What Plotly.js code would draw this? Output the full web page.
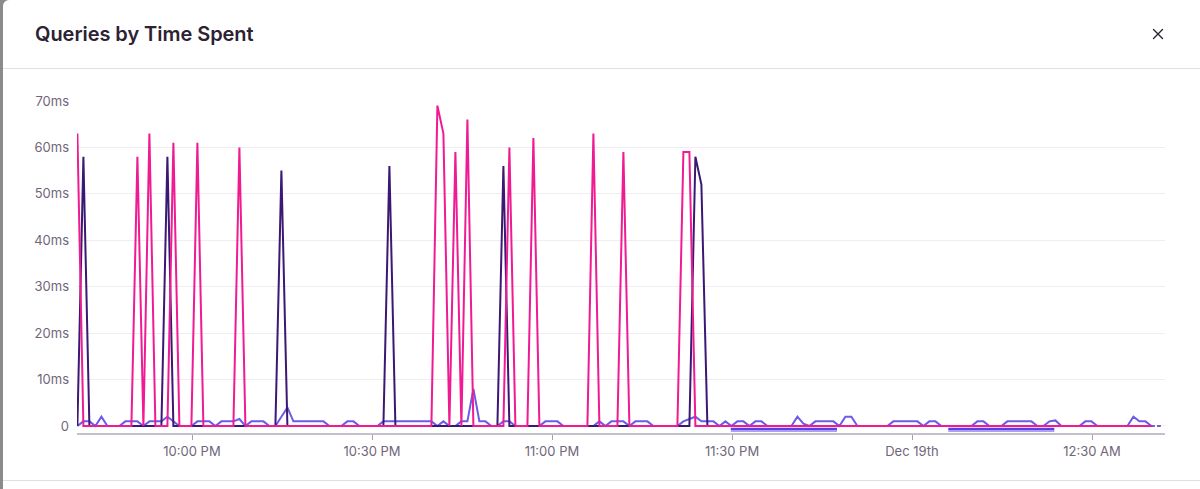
<!DOCTYPE html>
<html>
<head>
<meta charset="utf-8">
<script src="https://cdn.plot.ly/plotly-3.0.1.min.js"></script>
<style>
  html, body { margin:0; padding:0; width:1200px; height:489px; overflow:hidden; background:#8b8b8b; }
  #modal { position:absolute; left:3px; top:0; width:1197px; height:489px; background:#fff; border-top-left-radius:6px; }
  #title { position:absolute; left:32px; top:22px; font-family:Inter, "Open Sans", sans-serif; font-weight:600; font-size:20px; color:#2b2233; letter-spacing:-0.05px; }
  #sepTop { position:absolute; left:0; top:68px; width:1197px; height:1px; background:#e2dee6; }
  #sepBot { position:absolute; left:0; top:480px; width:1197px; height:1px; background:#e2dee6; }
  #close { position:absolute; left:1147px; top:26px; }
  #chart { position:absolute; left:0; top:0; width:1200px; height:489px; }
</style>
</head>
<body>
<div id="modal">
  <div id="title">Queries by Time Spent</div>
  <svg id="close" width="16" height="16" viewBox="0 0 16 16"><path d="M3.5 3.5 L12.5 12.5 M12.5 3.5 L3.5 12.5" stroke="#2b2233" stroke-width="1.4" stroke-linecap="round"/></svg>
  <div id="sepTop"></div>
  <div id="sepBot"></div>
</div>
<div id="chart"></div>
<script>
// ---- data (one value per minute bucket, starting 21:40:54) ----
const startTime = [2023, 11, 18, 21, 40, 54];
const solidCount = 180; // complete buckets, last one is drawn dashed

const lightVals = [
  0,1,1,0,2,0,0,0,1,1,
  1,0,1,1,1,2,1,0,0,0,
  1,1,1,0,1,1,1,1.5,0,1,
  1,1,0,0,2,4,1,1,1,1,
  1,1,0,0,0,1,1,0,0,0,
  0,1,1,1,1,1,1,1,1,1,
  0,1,0,0,1,1,8,1,1,0,
  0,1,1,0,0,0,0,0,1,1,
  1,0,0,0,0,0,0,1,0,1,
  1,1,0,1,1,1,0,0,0,0,
  0,1,1.5,2,1,1,1,0,1,0,
  1,1,0,1,1,0,0,0,0,0,
  2,0.5,0,1,1,1,1,0,2,2,
  0,0,0,0,0,0,1,1,1,1,
  1,0,1,1,0,0,0,0,0,0,
  1,1,0,0,0,1,1,1,1,1,
  0,0,1,1.2,0,0,0,0,1,1,
  0,0,0,0,0,0,2,1,1,0,
  0,0
];

const darkVals = [
  0,58,0,0,0,0,0,0,0,0,
  0,0,0,0,0,58,0,0,0,0,
  0,0,0,0,0,0,0,0,0,0,
  0,0,0,0,55,0,0,0,0,0,
  0,0,0,0,0,0,0,0,0,0,
  0,0,56,0,0,0,0,0,0,0,
  0,0,0,0,0,0,0,0,0,0,
  0,56,0,0,0,0,0,0,0,0,
  0,0,0,0,0,0,0,0,0,0,
  0,0,0,0,0,0,0,0,0,0,
  0,0,0,58,52,0,0,0,0,0,
  0,0,0,0,0,0,0,0,0,0,
  0,0,0,0,0,0,0,0,0,0,
  0,0,0,0,0,0,0,0,0,0,
  0,0,0,0,0,0,0,0,0,0,
  0,0,0,0,0,0,0,0,0,0,
  0,0,0,0,0,0,0,0,0,0,
  0,0,0,0,0,0,0,0,0,0,
  0,0
];

const pinkVals = [
  63,0,0,0,0,0,0,0,0,0,
  58,0,63,0,0,0,61,0,0,0,
  61,0,0,0,0,0,0,60,0,0,
  0,0,0,0,0,0,0,0,0,0,
  0,0,0,0,0,0,0,0,0,0,
  0,0,0,0,0,0,0,0,0,0,
  69,63,0,59,0,66,0,0,0,0,
  0,0,60,0,0,0,62,0,0,0,
  0,0,0,0,0,0,63,0,0,0,
  0,59,0,0,0,0,0,0,0,0,
  0,59,59,0,0,0,0,0,0,0,
  0,0,0,0,0,0,0,0,0,0,
  0,0,0,0,0,0,0,0,0,0,
  0,0,0,0,0,0,0,0,0,0,
  0,0,0,0,0,0,0,0,0,0,
  0,0,0,0,0,0,0,0,0,0,
  0,0,0,0,0,0,0,0,0,0,
  0,0,0,0,0,0,0,0,0,0,
  0,0
];

const yTickVals = [0, 10, 20, 30, 40, 50, 60, 70];
const yTickText = ['0', '10ms', '20ms', '30ms', '40ms', '50ms', '60ms', '70ms'];
const xTickVals = ['2023-12-18 22:00', '2023-12-18 22:30', '2023-12-18 23:00', '2023-12-18 23:30', '2023-12-19 00:00', '2023-12-19 00:30'];
const xTickText = ['10:00 PM', '10:30 PM', '11:00 PM', '11:30 PM', 'Dec 19th', '12:30 AM'];
const xRange = ['2023-12-18 21:40:50', '2023-12-19 00:42:10'];
const markerRanges = [
  ['2023-12-18 23:29:48', '2023-12-18 23:47:30'],
  ['2023-12-19 00:06:03', '2023-12-19 00:23:43']
];

const colors = { light: '#6b5be6', dark: '#3a1873', pink: '#f01a92' };
const labelColor = '#6f6679';

// ---- timestamps for buckets ----
const base = Date.UTC(startTime[0], startTime[1], startTime[2], startTime[3], startTime[4], startTime[5]);
const times = lightVals.map((_, i) => new Date(base + i * 60000).toISOString().slice(0, 19).replace('T', ' '));

function solid(vals, color) {
  return { x: times.slice(0, solidCount), y: vals.slice(0, solidCount), type: 'scatter', mode: 'lines',
           line: { color: color, width: 2, shape: 'linear' }, hoverinfo: 'skip' };
}
function dashed(vals, color) {
  return { x: times.slice(solidCount - 1), y: vals.slice(solidCount - 1), type: 'scatter', mode: 'lines',
           line: { color: color, width: 2, dash: 'dot' }, hoverinfo: 'skip' };
}

const data = [
  solid(lightVals, colors.light),
  solid(darkVals, colors.dark),
  solid(pinkVals, colors.pink),
  dashed(darkVals, colors.dark),
  dashed(pinkVals, colors.pink),
  dashed(lightVals, colors.light)
];

const shapes = [];
markerRanges.forEach(r => {
  shapes.push({ type: 'rect', xref: 'x', yref: 'paper', x0: r[0], x1: r[1], y0: 0.0075, y1: 0.0155,
                fillcolor: '#5b3fe3', line: { width: 0 }, layer: 'above' });
  shapes.push({ type: 'rect', xref: 'x', yref: 'paper', x0: r[0], x1: r[1], y0: 0.003, y1: 0.0075,
                fillcolor: '#ad9ff5', line: { width: 0 }, layer: 'above' });
});

const layout = {
  width: 1200, height: 489,
  margin: { l: 77, r: 35, t: 101, b: 56, pad: 0 },
  paper_bgcolor: 'rgba(0,0,0,0)',
  plot_bgcolor: 'rgba(0,0,0,0)',
  showlegend: false,
  hovermode: false,
  font: { family: 'Inter, "Open Sans", sans-serif', size: 13, color: labelColor },
  xaxis: {
    type: 'date', range: xRange,
    tickvals: xTickVals, ticktext: xTickText,
    showgrid: false, zeroline: false,
    showline: true, linecolor: '#c6c0cd', linewidth: 2,
    ticks: 'outside', ticklen: 5, tickwidth: 1, tickcolor: '#a59fab',
    tickfont: { family: 'Inter, "Open Sans", sans-serif', size: 13, color: labelColor },
    fixedrange: true
  },
  yaxis: {
    range: [-1.51, 70],
    tickvals: yTickVals, ticktext: yTickText,
    showgrid: true, gridcolor: '#efedf2', gridwidth: 1,
    zeroline: false, showline: false, ticks: '',
    ticklabelstandoff: 7,
    tickfont: { family: 'Inter, "Open Sans", sans-serif', size: 13, color: labelColor },
    fixedrange: true
  },
  shapes: shapes
};

Plotly.newPlot('chart', data, layout, { displayModeBar: false, staticPlot: true });
</script>
</body>
</html>
